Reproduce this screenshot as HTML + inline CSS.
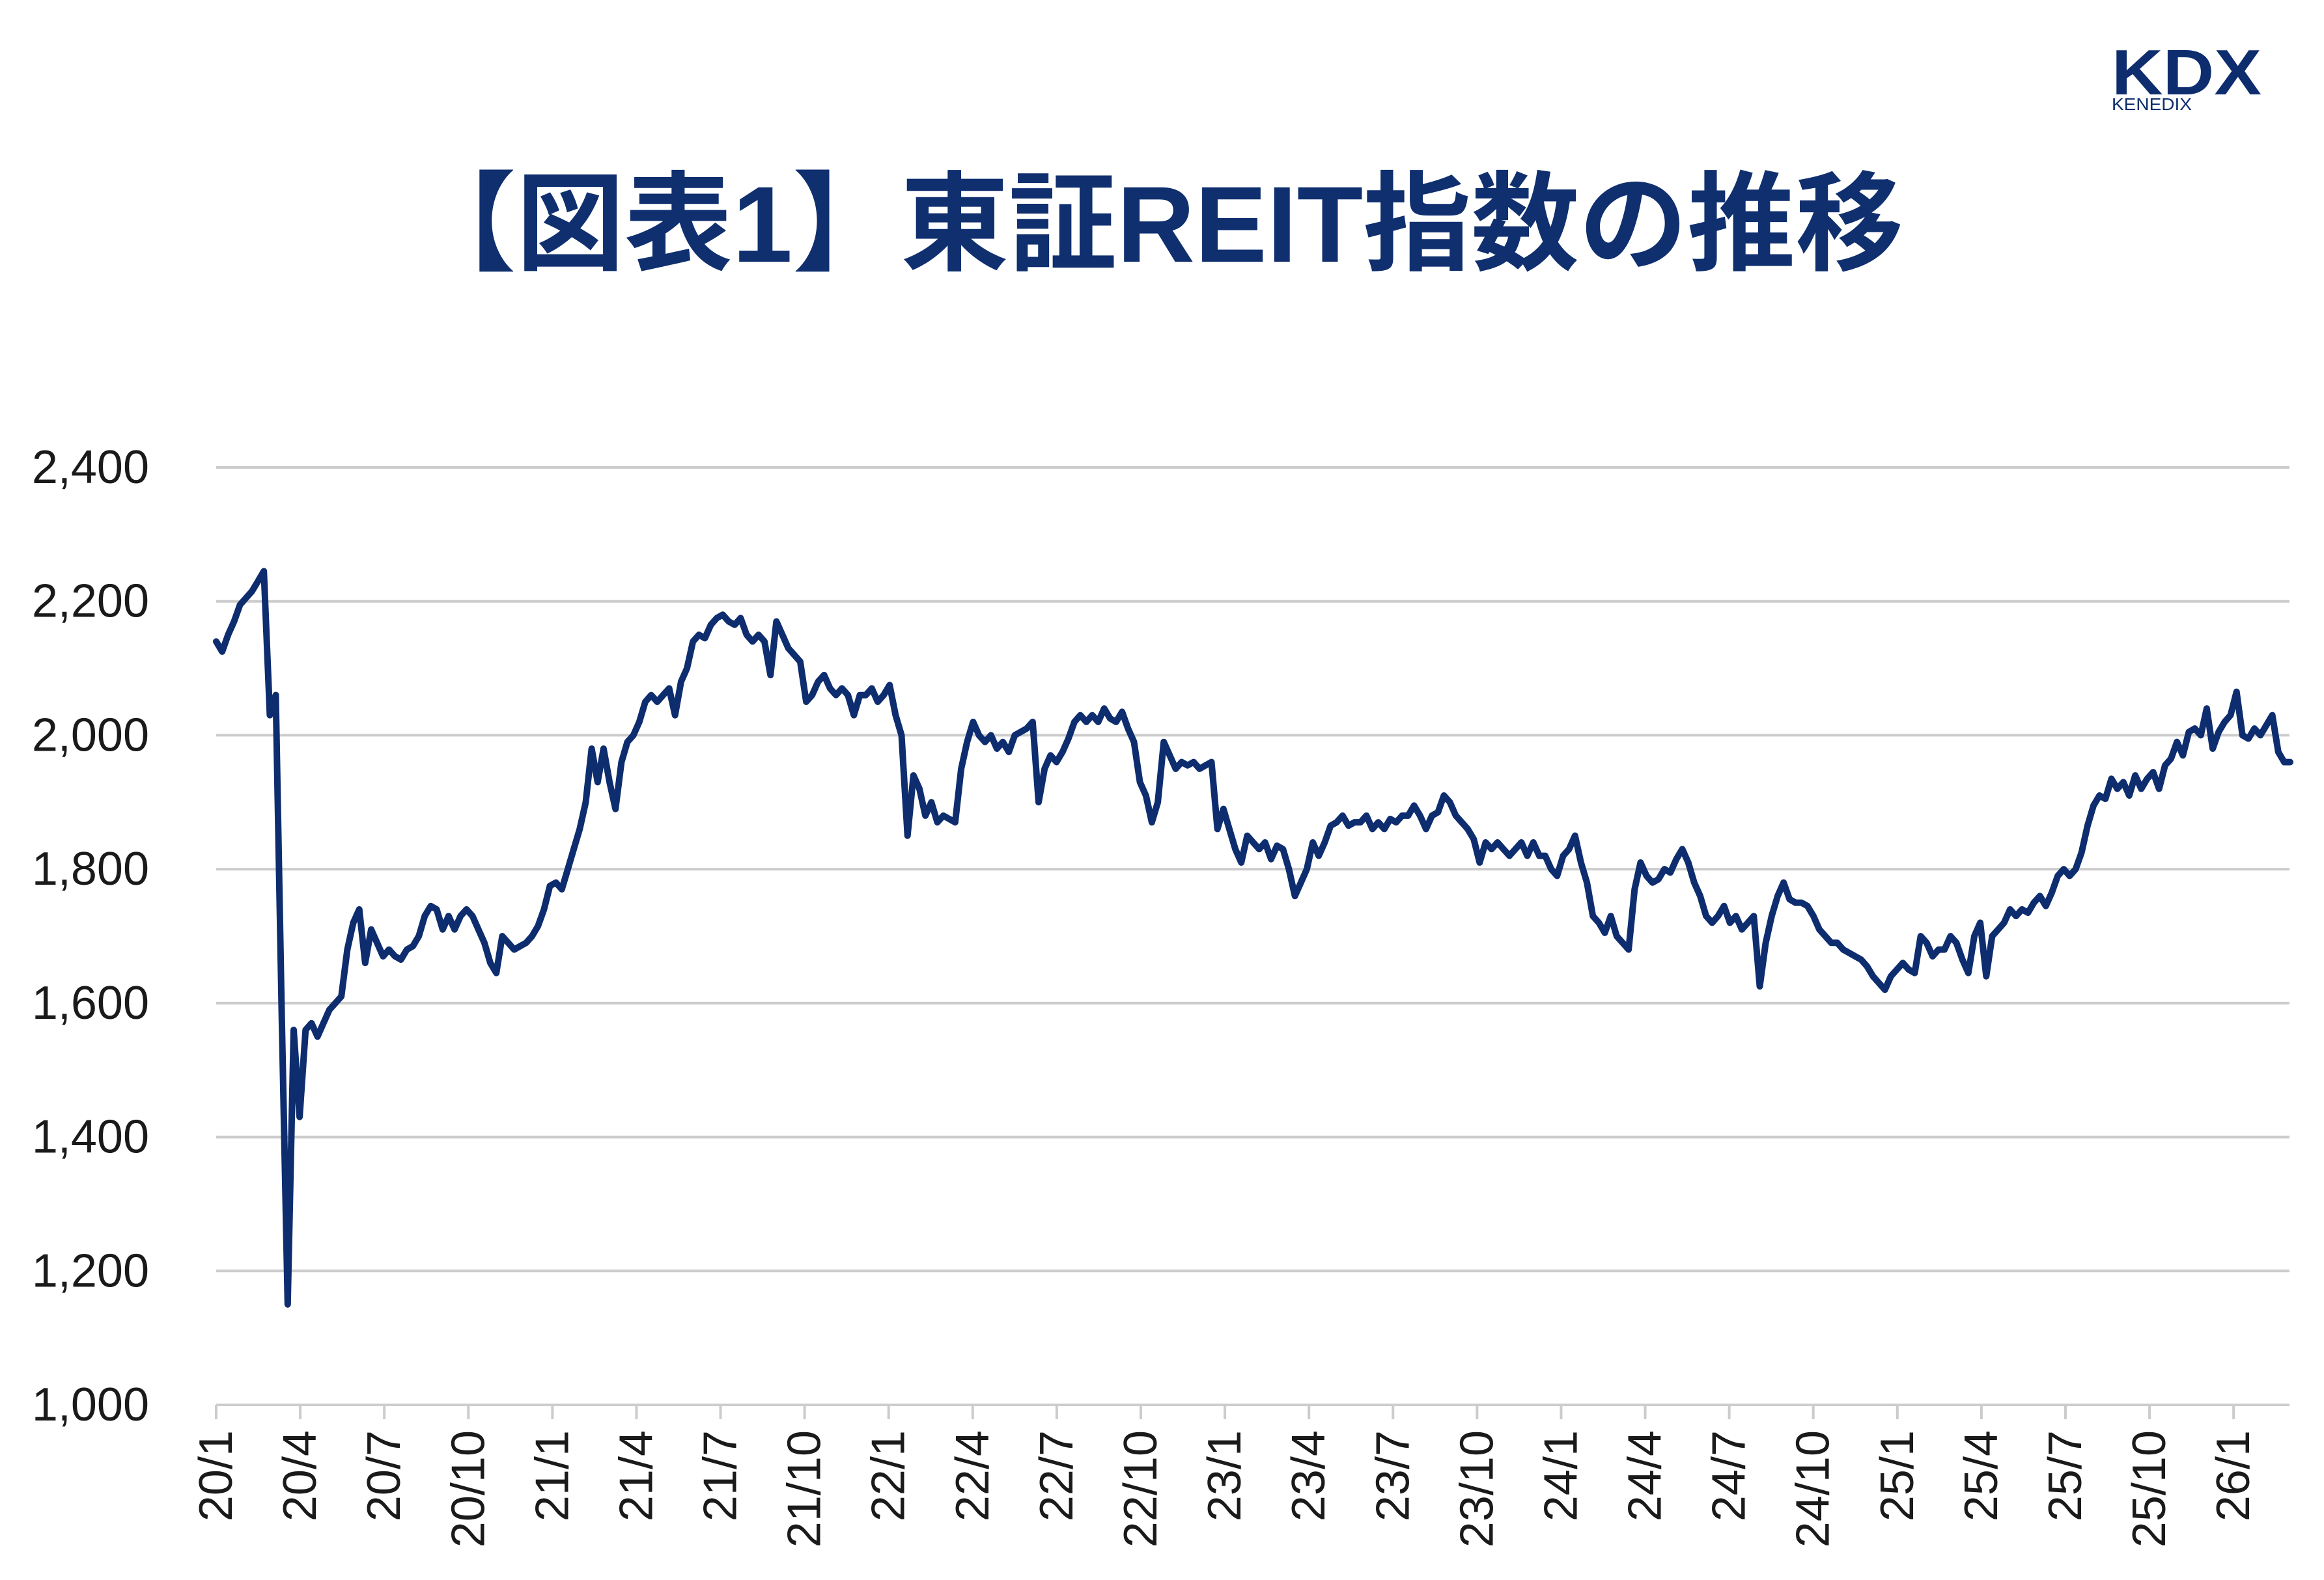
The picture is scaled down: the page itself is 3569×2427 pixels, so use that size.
<!DOCTYPE html>
<html lang="ja">
<head>
<meta charset="utf-8">
<title>東証REIT指数の推移</title>
<style>
  html,body{margin:0;padding:0;background:#fff;}
  body{width:3569px;height:2427px;overflow:hidden;}
  svg{display:block;}
</style>
</head>
<body>
<svg id="chart" xmlns="http://www.w3.org/2000/svg" width="3569" height="2427" viewBox="0 0 3569 2427">
  <rect x="0" y="0" width="3569" height="2427" fill="#ffffff"/>
  <g>
    <text x="3243" y="145" font-family="Liberation Sans, sans-serif" font-weight="bold" font-size="98" fill="#0e2d6f" textLength="230" lengthAdjust="spacingAndGlyphs">KDX</text>
    <text x="3243" y="169" font-family="Liberation Sans, sans-serif" font-size="26" fill="#0e2d6f" textLength="123" lengthAdjust="spacingAndGlyphs">KENEDIX</text>
  </g>
  <text x="1775" y="402" text-anchor="middle" font-family="Liberation Sans, Noto Sans CJK JP, sans-serif" font-weight="bold" font-size="166" fill="#0f2f6f">【図表1】東証REIT指数の推移</text>
  <g id="grid"></g>
  <g id="yaxis"></g>
  <g id="xaxis"></g>
  <g id="series"></g>
</svg>
<script>
// ---- chart data ----
const yTicks = [1000, 1200, 1400, 1600, 1800, 2000, 2200, 2400];
const yTickLabels = ["1,000", "1,200", "1,400", "1,600", "1,800", "2,000", "2,200", "2,400"];
const xTickLabels = ["20/1","20/4","20/7","20/10","21/1","21/4","21/7","21/10","22/1","22/4","22/7","22/10","23/1","23/4","23/7","23/10","24/1","24/4","24/7","24/10","25/1","25/4","25/7","25/10","26/1"];
const xTickMonths = [0,3,6,9,12,15,18,21,24,27,30,33,36,39,42,45,48,51,54,57,60,63,66,69,72];
// observations: months since 2020/1, evenly spaced (~weekly)
const firstMonth = 0;
const stepMonths = 0.2127;
const indexValues = [
2140,2125,2150,2170,2195,2205,2215,2230,2245,2030,2060,1580,1150,1560,1430,1560,1570,1550,1570,1590,
1600,1610,1680,1720,1740,1660,1710,1690,1670,1680,1670,1665,1680,1685,1700,1730,1745,1740,1710,1730,
1710,1730,1740,1730,1710,1690,1660,1645,1700,1690,1680,1685,1690,1700,1715,1740,1775,1780,1770,1800,
1830,1860,1900,1980,1930,1980,1930,1890,1960,1990,2000,2020,2050,2060,2050,2060,2070,2030,2080,2100,
2140,2150,2145,2165,2175,2180,2170,2165,2175,2150,2140,2150,2140,2090,2170,2150,2130,2120,2110,2050,
2060,2080,2090,2070,2060,2070,2060,2030,2060,2060,2070,2050,2060,2075,2030,2000,1850,1940,1920,1880,
1900,1870,1880,1875,1870,1950,1990,2020,2000,1990,2000,1980,1990,1975,2000,2005,2010,2020,1900,1950,
1970,1960,1975,1995,2020,2030,2020,2030,2020,2040,2025,2020,2035,2010,1990,1930,1910,1870,1900,1990,
1970,1950,1960,1955,1960,1950,1955,1960,1860,1890,1860,1830,1810,1850,1840,1830,1840,1815,1835,1830,
1800,1760,1780,1800,1840,1820,1840,1865,1870,1880,1865,1870,1870,1880,1860,1870,1860,1875,1870,1880,
1880,1895,1880,1860,1880,1885,1910,1900,1880,1870,1860,1845,1810,1840,1830,1840,1830,1820,1830,1840,
1820,1840,1820,1820,1800,1790,1820,1830,1850,1810,1780,1730,1720,1705,1730,1700,1690,1680,1770,1810,
1790,1780,1785,1800,1795,1815,1830,1810,1780,1760,1730,1720,1730,1745,1720,1730,1710,1720,1730,1625,
1690,1730,1760,1780,1755,1750,1750,1745,1730,1710,1700,1690,1690,1680,1675,1670,1665,1655,1640,1630,
1620,1640,1650,1660,1650,1645,1700,1690,1670,1680,1680,1700,1690,1665,1645,1700,1720,1640,1700,1710,
1720,1740,1730,1740,1735,1750,1760,1745,1765,1790,1800,1790,1800,1825,1865,1895,1910,1905,1935,1920,
1930,1910,1940,1920,1935,1945,1920,1955,1965,1990,1970,2005,2010,2000,2040,1980,2005,2020,2030,2065,
2000,1995,2010,2000,2015,2030,1975,1960,1960
];

// ---- scales ----
const X0 = 332, PX_PER_MONTH = 43.03;
const Y0 = 2158, YMIN = 1000, PX_PER_UNIT = 1440 / 1400;
const XRIGHT = 3516;
function xScale(m){ return X0 + m * PX_PER_MONTH; }
function yScale(v){ return Y0 - (v - YMIN) * PX_PER_UNIT; }
const NS = "http://www.w3.org/2000/svg";

const grid = document.getElementById('grid');
const yaxis = document.getElementById('yaxis');
const xaxis = document.getElementById('xaxis');
const series = document.getElementById('series');

yTicks.forEach(function(v, i){
  const y = yScale(v);
  if (v !== YMIN) {
    const ln = document.createElementNS(NS, 'line');
    ln.setAttribute('x1', X0); ln.setAttribute('x2', XRIGHT);
    ln.setAttribute('y1', y); ln.setAttribute('y2', y);
    ln.setAttribute('stroke', '#cccccc'); ln.setAttribute('stroke-width', '4');
    
    
    grid.appendChild(ln);
  }
  const t = document.createElementNS(NS, 'text');
  t.setAttribute('x', 229); t.setAttribute('y', y);
  t.setAttribute('text-anchor', 'end');
  t.setAttribute('dominant-baseline', 'central');
  t.setAttribute('font-family', 'Liberation Sans, Noto Sans CJK JP, sans-serif');
  t.setAttribute('font-size', '72');
  t.setAttribute('fill', '#1a1a1a');
  t.textContent = yTickLabels[i];
  
  
  yaxis.appendChild(t);
});

const axisLine = document.createElementNS(NS, 'line');
axisLine.setAttribute('x1', X0); axisLine.setAttribute('x2', XRIGHT);
axisLine.setAttribute('y1', Y0); axisLine.setAttribute('y2', Y0);
axisLine.setAttribute('stroke', '#cccccc'); axisLine.setAttribute('stroke-width', '4');


xaxis.appendChild(axisLine);

xTickMonths.forEach(function(m, i){
  const x = xScale(m);
  const tk = document.createElementNS(NS, 'line');
  tk.setAttribute('x1', x); tk.setAttribute('x2', x);
  tk.setAttribute('y1', Y0); tk.setAttribute('y2', Y0 + 22);
  tk.setAttribute('stroke', '#cccccc'); tk.setAttribute('stroke-width', '4');
  
  
  xaxis.appendChild(tk);
  const t = document.createElementNS(NS, 'text');
  t.setAttribute('transform', 'translate(' + x + ',2197) rotate(-90)');
  t.setAttribute('text-anchor', 'end');
  t.setAttribute('dominant-baseline', 'central');
  t.setAttribute('font-family', 'Liberation Sans, Noto Sans CJK JP, sans-serif');
  t.setAttribute('font-size', '72');
  t.setAttribute('fill', '#1a1a1a');
  t.textContent = xTickLabels[i];
  
  
  xaxis.appendChild(t);
});

let d = '';
indexValues.forEach(function(v, i){
  const m = firstMonth + i * stepMonths;
  d += (i === 0 ? 'M' : 'L') + xScale(m).toFixed(1) + ',' + yScale(v).toFixed(1);
});
const path = document.createElementNS(NS, 'path');
path.setAttribute('d', d);
path.setAttribute('fill', 'none');
path.setAttribute('stroke', '#0e2d6f');
path.setAttribute('stroke-width', '10');
path.setAttribute('stroke-linejoin', 'round');
path.setAttribute('stroke-linecap', 'round');


series.appendChild(path);
</script>
</body>
</html>
